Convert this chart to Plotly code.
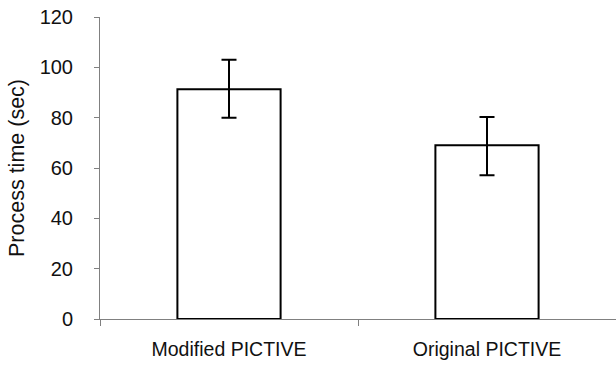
import plotly.graph_objects as go

# Mean process time per prototyping method, with error bar extents
methods = ["Modified PICTIVE", "Original PICTIVE"]
mean_time = [91.3, 69.0]
err_plus = [11.7, 11.3]
err_minus = [11.3, 11.9]

tick_vals = [0, 20, 40, 60, 80, 100, 120]

fig = go.Figure(
    go.Bar(
        x=methods,
        y=mean_time,
        width=0.40,
        marker=dict(color="white", line=dict(color="black", width=2)),
        error_y=dict(
            type="data",
            symmetric=False,
            array=err_plus,
            arrayminus=err_minus,
            color="black",
            thickness=2,
            width=7.5,
        ),
    )
)

font_family = "Liberation Sans, Arial, sans-serif"

fig.update_layout(
    width=616,
    height=370,
    margin=dict(l=100, r=0, t=17, b=51),
    paper_bgcolor="white",
    plot_bgcolor="white",
    showlegend=False,
    font=dict(family=font_family, size=19, color="#111111"),
    xaxis=dict(
        showline=True,
        linecolor="#808080",
        linewidth=1,
        ticks="outside",
        tickson="boundaries",
        ticklen=6,
        tickcolor="#808080",
        showgrid=False,
        ticklabelstandoff=13,
        tickfont=dict(size=19.5),
    ),
    yaxis=dict(
        range=[0, 120],
        tickvals=tick_vals,
        showline=True,
        linecolor="#808080",
        linewidth=1,
        ticks="outside",
        ticklen=5,
        tickcolor="#808080",
        showgrid=False,
        zeroline=False,
        ticklabelstandoff=17,
        tickfont=dict(size=20),
        title=dict(text="Process time (sec)", font=dict(size=21.5), standoff=9),
    ),
)

fig.write_html("out.html")
